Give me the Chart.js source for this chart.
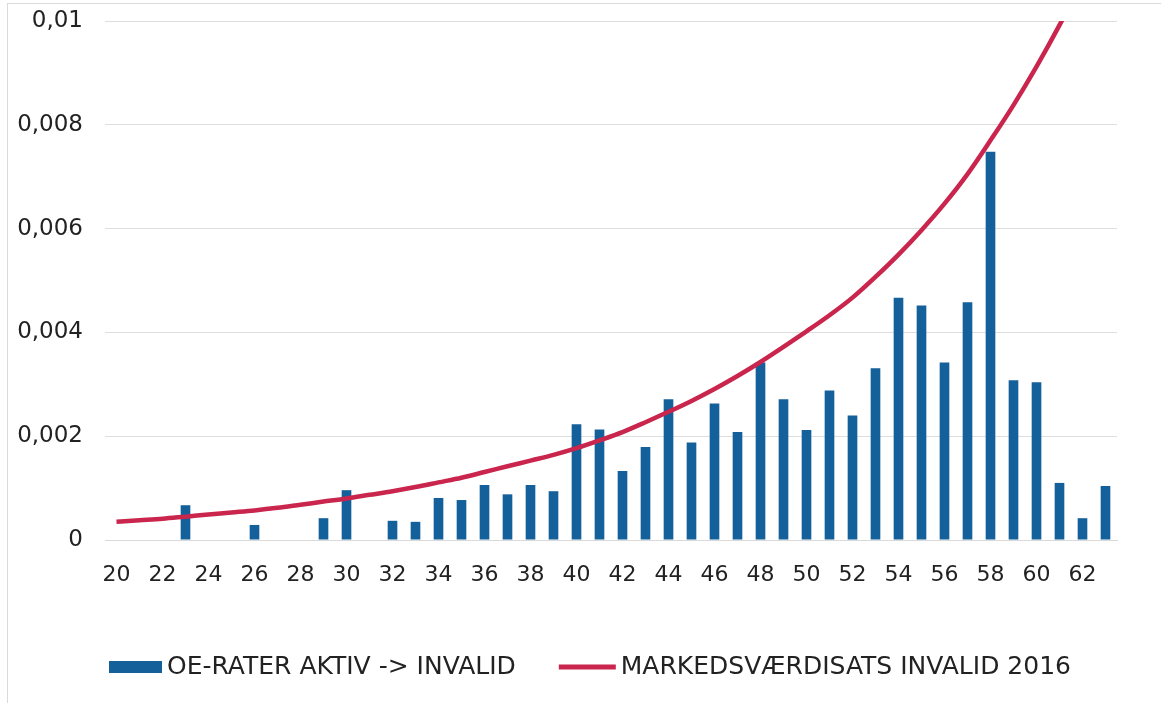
<!DOCTYPE html>
<html><head><meta charset="utf-8">
<script src="https://cdn.jsdelivr.net/npm/chart.js@4.4.1/dist/chart.umd.min.js"></script>
<style>
html,body{margin:0;padding:0;background:#fff;}
#wrap{position:relative;width:1161px;height:703px;overflow:hidden;}
#frame{position:absolute;left:7px;top:3px;right:-2px;bottom:-2px;border-left:1px solid #dadada;border-top:1px solid #dadada;pointer-events:none;}
</style>
</head><body>
<div id="wrap"><canvas id="c" width="1161" height="703"></canvas><div id="frame"></div></div>
<script>
const ages = ['20','21','22','23','24','25','26','27','28','29','30','31','32','33','34','35','36','37','38','39','40','41','42','43','44','45','46','47','48','49','50','51','52','53','54','55','56','57','58','59','60','61','62','63'];
const oeRates = [null,null,null,0.00067,null,null,0.00029,null,null,0.00042,0.00096,null,0.00037,0.00035,0.00081,0.00077,0.00106,0.00088,0.00106,0.00094,0.00223,0.00213,0.00133,0.00179,0.00271,0.00188,0.00263,0.00208,0.00342,0.00271,0.00212,0.00288,0.00240,0.00331,0.00467,0.00452,0.00342,0.00458,0.00748,0.00308,0.00304,0.00110,0.00042,0.00104];
const marketRates = [0.00035,0.00038,0.00041,0.00045,0.00049,0.00053,0.00057,0.00062,0.00068,0.00074,0.00080,0.00087,0.00094,0.00102,0.00111,0.00120,0.00131,0.00142,0.00153,0.00164,0.00177,0.00192,0.00208,0.00227,0.00247,0.00268,0.00291,0.00316,0.00343,0.00372,0.00402,0.00433,0.00467,0.00507,0.00550,0.00597,0.00648,0.00705,0.00770,0.00838,0.00912,0.00992,0.01078,0.01170];
const yTickLabels = ['0','0,002','0,004','0,006','0,008','0,01'];
const seriesNames = ['OE-RATER AKTIV -> INVALID','MARKEDSVÆRDISATS INVALID 2016'];

const BAR_COLOR = '#14609a';
const LINE_COLOR = '#c9254d';
const TEXT_COLOR = '#222222';
const FONT = '"DejaVu Sans", Verdana, sans-serif';

const legendPlugin = {
  id: 'customLegend',
  afterDraw(chart) {
    const ctx = chart.ctx;
    ctx.save();
    ctx.font = '25px ' + FONT;
    ctx.textBaseline = 'middle';
    ctx.fillStyle = TEXT_COLOR;
    const cy = 667;
    const boxW = 53, lineW = 57, gap = 5, itemGap = 43;
    const w1 = ctx.measureText(chart.data.datasets[0].label).width;
    const w2 = ctx.measureText(chart.data.datasets[1].label).width;
    const total = boxW + gap + w1 + itemGap + lineW + gap + w2;
    let x = 590 - total / 2;
    ctx.fillStyle = chart.data.datasets[0].backgroundColor;
    ctx.fillRect(x, cy - 6, boxW, 12);
    x += boxW + gap;
    ctx.fillStyle = TEXT_COLOR;
    ctx.textAlign = 'left';
    ctx.fillText(chart.data.datasets[0].label, x, cy);
    x += w1 + itemGap;
    ctx.fillStyle = chart.data.datasets[1].borderColor;
    ctx.fillRect(x, cy - 2.5, lineW, 5);
    x += lineW + gap;
    ctx.fillStyle = TEXT_COLOR;
    ctx.fillText(chart.data.datasets[1].label, x, cy);
    ctx.restore();
  }
};

new Chart(document.getElementById('c'), {
  data: {
    labels: ages,
    datasets: [
      {
        type: 'bar',
        label: seriesNames[0],
        data: oeRates,
        backgroundColor: BAR_COLOR,
        barPercentage: 0.42,
        categoryPercentage: 1.0,
        order: 1
      },
      {
        type: 'line',
        label: seriesNames[1],
        data: marketRates,
        borderColor: LINE_COLOR,
        backgroundColor: LINE_COLOR,
        borderWidth: 4.5,
        pointRadius: 0,
        cubicInterpolationMode: 'monotone',
        fill: false,
        order: 0
      }
    ]
  },
  options: {
    responsive: false,
    animation: false,
    layout: { padding: { top: 21, right: 44, bottom: 0, left: 0 } },
    plugins: { legend: { display: false }, tooltip: { enabled: false } },
    scales: {
      x: {
        grid: { display: false, drawTicks: false },
        border: { display: true, color: '#d9d9d9' },
        ticks: {
          autoSkip: false, maxRotation: 0, minRotation: 0, padding: 22,
          color: TEXT_COLOR, font: { family: FONT, size: 22 },
          callback: function(v, i) { return i % 2 === 0 ? ages[i] : ''; }
        },
        afterFit: function(scale) { scale.height = 163; scale.paddingLeft = 0; scale.paddingRight = 0; }
      },
      y: {
        min: 0, max: 0.01,
        grid: { color: '#dedede', drawTicks: false },
        border: { display: false },
        ticks: {
          stepSize: 0.002, padding: 22,
          color: TEXT_COLOR, font: { family: FONT, size: 23 },
          callback: function(v, i) { return yTickLabels[i]; }
        },
        afterFit: function(scale) { scale.width = 105; scale.paddingTop = 0; scale.paddingBottom = 0; }
      }
    }
  },
  plugins: [legendPlugin]
});
</script>
</body></html>
